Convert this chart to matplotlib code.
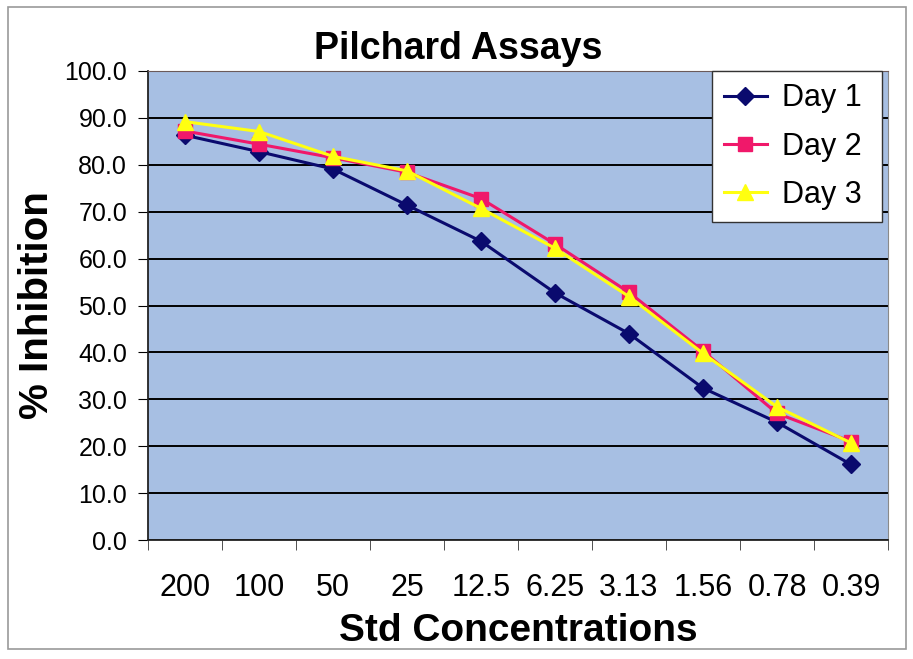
import matplotlib
matplotlib.use("Agg")
import matplotlib.pyplot as plt
from matplotlib.patches import Rectangle
import numpy as np

plt.rcParams['font.family'] = ['Liberation Sans', 'DejaVu Sans']

categories = ["200", "100", "50", "25", "12.5", "6.25", "3.13", "1.56", "0.78", "0.39"]
day1 = [86.3, 82.8, 79.1, 71.4, 63.7, 52.7, 44.0, 32.4, 25.1, 16.1]
day2 = [87.2, 84.4, 81.5, 78.4, 72.8, 63.1, 52.8, 40.3, 27.0, 21.0]
day3 = [89.2, 87.1, 81.8, 78.7, 70.7, 62.2, 51.9, 39.8, 28.4, 20.7]
yticks = np.arange(0, 101, 10)

W, H = 913, 659
fig = plt.figure(figsize=(W / 100, H / 100), dpi=100)
fig.patch.set_facecolor('white')
fig.add_artist(Rectangle((8 / W, 1 - 649 / H), 898 / W, 642 / H, transform=fig.transFigure,
                         fill=False, edgecolor='#9a9a9a', linewidth=1.2))

ax = fig.add_axes([148 / W, 1 - 540 / H, 740 / W, 469 / H])
ax.set_facecolor('#a7bfe3')

x = np.arange(len(categories))
ax.plot(x, day1, color='#0a0a6e', marker='D', markersize=9, linewidth=2.2, label='Day 1', zorder=3)
ax.plot(x, day2, color='#f0186a', marker='s', markersize=10, linewidth=2.2, label='Day 2', zorder=4)
ax.plot(x, day3, color='#ffff10', marker='^', markersize=12, linewidth=2.2, label='Day 3', zorder=5)

ax.set_xlim(-0.5, len(categories) - 0.5)
ax.set_ylim(0, 100)
ax.set_yticks(yticks)
ax.set_yticklabels([f"{v:.1f}" for v in yticks], fontsize=18)
ax.yaxis.grid(True, color='black', linewidth=1.4)
ax.set_axisbelow(True)

ax.set_xticks(x)
ax.set_xticklabels(categories, fontsize=22)
ax.set_xticks(np.arange(-0.5, len(categories), 1), minor=True)
ax.tick_params(axis='x', which='major', length=0, pad=24)
ax.tick_params(axis='x', which='minor', length=7, direction='out', color='#333333')
ax.tick_params(axis='y', length=7, direction='out', pad=8)

for s in ['left', 'bottom']:
    ax.spines[s].set_color('#222222')
    ax.spines[s].set_linewidth(1.3)
ax.spines['top'].set_color('#6b5a5a')
ax.spines['right'].set_color('#8a8a8a')

fig.text(458 / W, 1 - 49 / H, 'Pilchard Assays', fontsize=27, fontweight='bold',
         ha='center', va='center')
ax.set_xlabel('Std Concentrations', fontsize=28, fontweight='bold', labelpad=7)
ax.set_ylabel('% Inhibition', fontsize=29, fontweight='bold', labelpad=6)

leg = ax.legend(loc='upper left', bbox_to_anchor=(0.762, 1.0, 0.23, 0.0), mode='expand',
                borderaxespad=0, fontsize=22, frameon=True, fancybox=False, numpoints=1,
                handlelength=1.4, handletextpad=0.5, labelspacing=0.6, borderpad=0.4)
leg.get_frame().set_facecolor('white')
leg.get_frame().set_edgecolor('#333333')
leg.get_frame().set_alpha(1)
leg.set_zorder(10)

fig.savefig('out.png', dpi=100)
